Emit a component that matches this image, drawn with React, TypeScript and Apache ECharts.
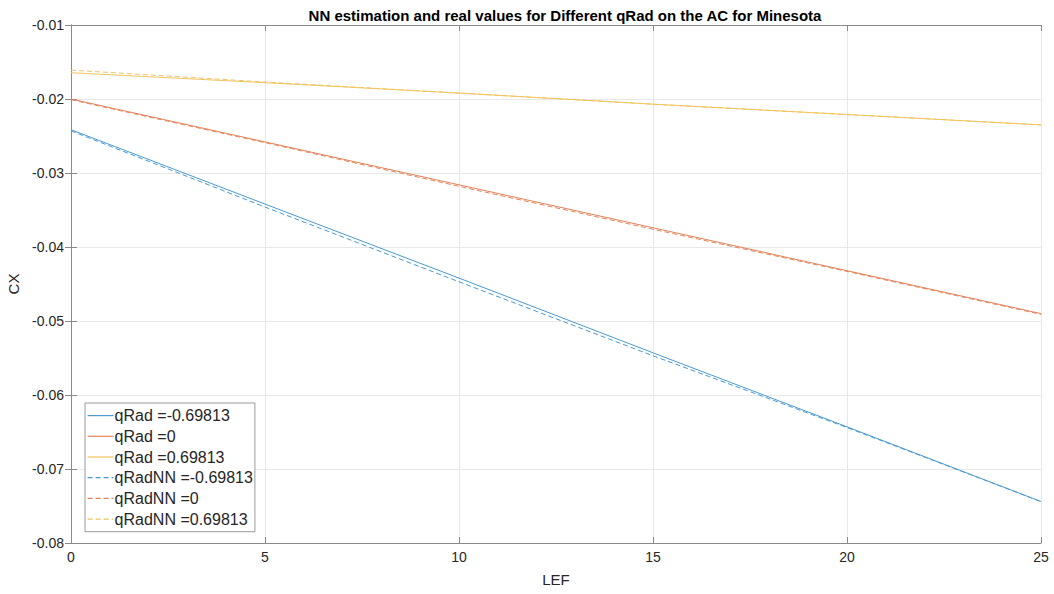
import React, { useEffect, useRef } from "react";
import * as echarts from "echarts";

const lef = [0, 5, 10, 15, 20, 25];
const qRadNeg = [-0.02415, -0.0342, -0.0442, -0.0543, -0.0643, -0.0744];
const qRadZero = [-0.02, -0.0258, -0.0316, -0.0374, -0.0432, -0.049];
const qRadPos = [-0.01645, -0.0178, -0.0192, -0.0207, -0.0221, -0.0235];
const nnNeg = [-0.0243, -0.0346, -0.0447, -0.0547, -0.0644, -0.0744];
const nnZero = [-0.0201, -0.0259, -0.0318, -0.0376, -0.0433, -0.0491];
const nnPos = [-0.0161, -0.0177, -0.0192, -0.0207, -0.0221, -0.0235];

const names = [
  "qRad =-0.69813",
  "qRad =0",
  "qRad =0.69813",
  "qRadNN =-0.69813",
  "qRadNN =0",
  "qRadNN =0.69813",
];
const colors = ["#4a9ad2", "#e4835a", "#f0c45e", "#4a9ad2", "#e4835a", "#f0c45e"];
const seriesData = [qRadNeg, qRadZero, qRadPos, nnNeg, nnZero, nnPos];

export default function App() {
  const ref = useRef<HTMLDivElement>(null);
  useEffect(() => {
    if (!ref.current) return;
    const chart = echarts.init(ref.current, undefined, { renderer: "svg" });
    const font = "'Liberation Sans', Arial, Helvetica, sans-serif";
    const axisLine = { show: true, lineStyle: { color: "#8a8a8a", width: 1 } };
    const tick = { show: true, inside: true, length: 6, lineStyle: { color: "#8a8a8a" } };
    const dashOf = (i: number) => (i >= 3 ? [5, 3] : "solid");
    chart.setOption({
      animation: false,
      backgroundColor: "#ffffff",
      textStyle: { fontFamily: font },
      title: {
        text: "NN estimation and real values for Different qRad on the AC for Minesota",
        left: 560,
        textAlign: "center",
        top: 3,
        textStyle: { fontSize: 15, fontWeight: "bold", color: "#000", fontFamily: font },
      },
      grid: { left: 71, right: 13, top: 25, bottom: 51, containLabel: false, outerBoundsMode: "none" },
      legend: {
        orient: "vertical",
        left: 85,
        top: 403,
        data: names.map((n, i) => ({
          name: n,
          itemStyle: { opacity: 0, borderWidth: 0 },
          lineStyle: { color: colors[i], width: 1.2, type: dashOf(i), opacity: 1 },
        })),
        itemWidth: 26,
        itemHeight: 15,
        itemGap: 3.5,
        padding: [4, 2, 4, 2],
        borderColor: "#9a9a9a",
        borderWidth: 1,
        backgroundColor: "#fff",
        textStyle: { fontSize: 16, color: "#262626", lineHeight: 17.2, fontFamily: font, padding: [0, 0, 0, -4] },
      },
      xAxis: [
        {
          type: "value",
          min: 0,
          max: 25,
          interval: 5,
          name: "LEF",
          nameLocation: "middle",
          nameGap: 29,
          nameTextStyle: { fontSize: 15, color: "#262626" },
          axisLine,
          axisTick: tick,
          axisLabel: { fontSize: 14, color: "#262626", margin: 7 },
          splitLine: { show: true, lineStyle: { color: "#e8e8e8", width: 1 } },
        },
        {
          type: "value",
          position: "top",
          min: 0,
          max: 25,
          interval: 5,
          axisLine,
          axisTick: tick,
          axisLabel: { show: false },
          splitLine: { show: false },
        },
      ],
      yAxis: [
        {
          type: "value",
          min: -0.08,
          max: -0.01,
          interval: 0.01,
          name: "CX",
          nameLocation: "middle",
          nameGap: 40,
          nameTextStyle: { fontSize: 15, color: "#262626" },
          axisLine,
          axisTick: tick,
          axisLabel: {
            fontSize: 14,
            color: "#262626",
            margin: 7,
            formatter: (v: number) => v.toFixed(2),
          },
          splitLine: { show: true, lineStyle: { color: "#e8e8e8", width: 1 } },
        },
        {
          type: "value",
          position: "right",
          min: -0.08,
          max: -0.01,
          interval: 0.01,
          axisLine,
          axisTick: tick,
          axisLabel: { show: false },
          splitLine: { show: false },
        },
      ],
      series: names.map((n, i) => ({
        name: n,
        type: "line",
        xAxisIndex: 0,
        yAxisIndex: 0,
        showSymbol: false,
        symbol: "none",
        color: colors[i],
        lineStyle: {
          color: colors[i],
          width: 1,
          type: dashOf(i),
        },
        data: lef.map((x, j) => [x, seriesData[i][j]]),
      })),
    });
    return () => chart.dispose();
  }, []);
  return (
    <div
      ref={ref}
      style={{ position: "absolute", left: 0, top: 0, width: 1054, height: 594 }}
    />
  );
}
